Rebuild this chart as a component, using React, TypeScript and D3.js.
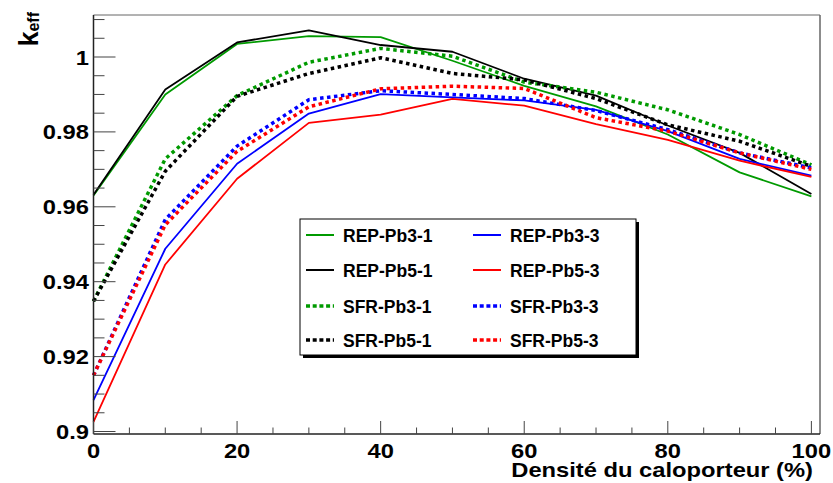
import React from "react";
import * as d3 from "d3";

const densities = [0, 10, 20, 30, 40, 50, 60, 70, 80, 90, 100];

const repPb31 = [0.9630, 0.9900, 1.0035, 1.0056, 1.0053, 0.9990, 0.9923, 0.9868, 0.9793, 0.9692, 0.9628];
const repPb51 = [0.9632, 0.9913, 1.0039, 1.0071, 1.0032, 1.0014, 0.9942, 0.9897, 0.9817, 0.9744, 0.9634];
const sfrPb31 = [0.9348, 0.9728, 0.9897, 0.9986, 1.0023, 1.0002, 0.9933, 0.9906, 0.9859, 0.9793, 0.9712];
const sfrPb51 = [0.9348, 0.9695, 0.9895, 0.9956, 0.9998, 0.9956, 0.9939, 0.9889, 0.9819, 0.9775, 0.9708];
const repPb33 = [0.9084, 0.9488, 0.9715, 0.9849, 0.9901, 0.9892, 0.9884, 0.9859, 0.9802, 0.9728, 0.9683];
const repPb53 = [0.9026, 0.9446, 0.9675, 0.9824, 0.9846, 0.9888, 0.9870, 0.9821, 0.9779, 0.9723, 0.9680];
const sfrPb33 = [0.9150, 0.9566, 0.9762, 0.9886, 0.9910, 0.9900, 0.9889, 0.9857, 0.9806, 0.9744, 0.9704];
const sfrPb53 = [0.9150, 0.9552, 0.9748, 0.9867, 0.9915, 0.9922, 0.9916, 0.9838, 0.9802, 0.9744, 0.9700];

const xTicks = [0, 20, 40, 60, 80, 100];
const yTicks = [0.9, 0.92, 0.94, 0.96, 0.98, 1];
const yTickLabels = ["0.9", "0.92", "0.94", "0.96", "0.98", "1"];

const GREEN = "#009a00";
const seriesList = [
  { name: "REP-Pb3-1", values: repPb31, color: GREEN, dotted: false },
  { name: "REP-Pb5-1", values: repPb51, color: "#000000", dotted: false },
  { name: "SFR-Pb3-1", values: sfrPb31, color: GREEN, dotted: true },
  { name: "SFR-Pb5-1", values: sfrPb51, color: "#000000", dotted: true },
  { name: "REP-Pb3-3", values: repPb33, color: "#0000ff", dotted: false },
  { name: "REP-Pb5-3", values: repPb53, color: "#ff0000", dotted: false },
  { name: "SFR-Pb3-3", values: sfrPb33, color: "#0000ff", dotted: true },
  { name: "SFR-Pb5-3", values: sfrPb53, color: "#ff0000", dotted: true },
];

const FONT = "'Liberation Sans', Arial, Helvetica, sans-serif";

export default function App() {
  const W = 833, H = 483;
  const left = 93.5, right = 820, top = 15, bottom = 434;
  const x = d3.scaleLinear().domain([0, 101.2]).range([left, right]);
  const y = d3.scaleLinear().domain([0.9, 1.0]).range([431.5, 57]);

  const line = d3
    .line<number>()
    .x((_, i) => x(densities[i]))
    .y((v) => y(v));

  const xMinor = d3.range(0, 101, 5).filter((v) => v % 20 !== 0);
  const yMinor = d3.range(0, 23).map((i) => 0.9 + i * 0.005).filter((v) => Math.abs(Math.round(v * 50) - v * 50) > 1e-6 && y(v) >= top && y(v) <= bottom);

  const drawOrder = [0, 1, 4, 5, 2, 3, 6, 7];

  // legend layout
  const lgX = 300, lgY = 219, lgW = 336, lgH = 136;
  const legendCols = [
    [0, 1, 2, 3],
    [4, 5, 6, 7],
  ];
  const rowY = [235, 270, 306, 340];
  const colLineX = [306, 473];

  return (
    <svg width={W} height={H} style={{ position: "absolute", left: 0, top: 0, background: "#fff" }}>
      <rect x={0} y={0} width={W} height={H} fill="#fff" />
      {/* frame */}
      <line x1={left} x2={right} y1={top} y2={top} stroke="#666" strokeWidth={1} />
      <line x1={right} x2={right} y1={top} y2={bottom} stroke="#666" strokeWidth={1.5} />
      {/* series */}
      {drawOrder.map((k) => {
        const s = seriesList[k];
        return (
          <path
            key={s.name}
            d={line(s.values) || ""}
            fill="none"
            stroke={s.color}
            strokeWidth={s.dotted ? 3.5 : 1.8}
            strokeDasharray={s.dotted ? "3.5,3.5" : undefined}
            strokeLinejoin="round"
          />
        );
      })}
      {/* axes */}
      <line x1={left} x2={left} y1={top} y2={bottom} stroke="#222" strokeWidth={1.5} />
      <line x1={left} x2={right} y1={bottom} y2={bottom} stroke="#222" strokeWidth={1.5} />
      {yTicks.map((v) => (
        <line key={"yt" + v} x1={left} x2={left + 22} y1={y(v)} y2={y(v)} stroke="#444" strokeWidth={1} />
      ))}
      {yMinor.map((v) => (
        <line key={"ym" + v} x1={left} x2={left + 11} y1={y(v)} y2={y(v)} stroke="#444" strokeWidth={1} />
      ))}
      {xTicks.map((v) => (
        <line key={"xt" + v} x1={x(v)} x2={x(v)} y1={bottom} y2={bottom - 13} stroke="#444" strokeWidth={1} />
      ))}
      {xMinor.map((v) => (
        <line key={"xm" + v} x1={x(v)} x2={x(v)} y1={bottom} y2={bottom - 6.5} stroke="#444" strokeWidth={1} />
      ))}
      {/* y tick labels */}
      {yTicks.map((v, i) => (
        <text
          key={"yl" + v}
          transform={`translate(89, ${y(v) + 7.5}) scale(1.13,1)`}
          textAnchor="end"
          fontFamily={FONT}
          fontWeight="bold"
          fontSize={21}
          fill="#000"
        >
          {yTickLabels[i]}
        </text>
      ))}
      {/* x tick labels */}
      {xTicks.map((v) => (
        <text
          key={"xl" + v}
          transform={`translate(${x(v)}, 458) scale(1.13,1)`}
          textAnchor="middle"
          fontFamily={FONT}
          fontWeight="bold"
          fontSize={21}
          fill="#000"
        >
          {String(v)}
        </text>
      ))}
      {/* axis titles */}
      <text
        transform="translate(813, 477) scale(1.13,1)"
        textAnchor="end"
        fontFamily={FONT}
        fontWeight="bold"
        fontSize={21}
        fill="#000"
      >
        Densité du caloporteur (%)
      </text>
      <text
        transform="translate(38, 12) rotate(-90)"
        textAnchor="end"
        fontFamily={FONT}
        fontWeight="bold"
        fill="#000"
      >
        <tspan fontSize={27}>k</tspan>
        <tspan fontSize={16} dy={1}>eff</tspan>
      </text>
      {/* legend */}
      <rect x={lgX + 3} y={lgY + 3} width={lgW} height={lgH} fill="#000" />
      <rect x={lgX} y={lgY} width={lgW} height={lgH} fill="#fff" stroke="#000" strokeWidth={1} />
      {legendCols.map((col, ci) =>
        col.map((k, ri) => {
          const s = seriesList[k];
          const lx = colLineX[ci];
          return (
            <g key={"lg" + s.name}>
              <line
                x1={lx}
                x2={lx + 28}
                y1={rowY[ri]}
                y2={rowY[ri]}
                stroke={s.color}
                strokeWidth={s.dotted ? 3.5 : 2}
                strokeDasharray={s.dotted ? "4,2.7" : undefined}
              />
              <text
                x={lx + 37}
                y={rowY[ri] + 6.5}
                fontFamily={FONT}
                fontWeight="bold"
                fontSize={17.5}
                fill="#000"
              >
                {s.name}
              </text>
            </g>
          );
        })
      )}
    </svg>
  );
}
